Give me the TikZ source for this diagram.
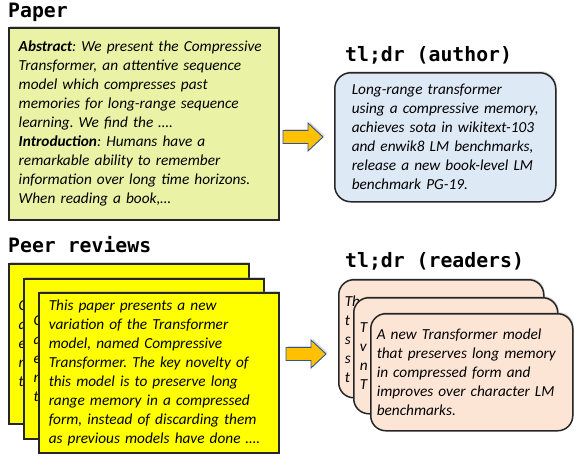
\documentclass[tikz,border=0pt]{standalone}
\usepackage{fontspec}
\setmainfont{Carlito}
\newfontfamily\titlefont{DejaVu Sans Mono}
\usetikzlibrary{shadows}
\frenchspacing

\definecolor{paperfill}{RGB}{234,242,166}
\definecolor{authorfill}{RGB}{222,233,246}
\definecolor{reviewfill}{RGB}{255,255,0}
\definecolor{readerfill}{RGB}{252,229,213}
\definecolor{arrowfill}{RGB}{255,192,0}
\definecolor{arrowline}{RGB}{47,85,151}
\definecolor{boxline}{RGB}{38,38,38}

\begin{document}
\begin{tikzpicture}[x=1pt, y=-1pt,
    every node/.style={inner sep=0pt},
    heading/.style={font=\titlefont\bfseries\fontsize{19.8}{22}\selectfont, anchor=base west},
    card/.style={draw=boxline, line width=1.5pt, align=left, anchor=north west,
        font=\itshape\fontsize{15.3}{19}\selectfont,
        drop shadow={shadow xshift=1pt, shadow yshift=1.5pt, opacity=0.35}},
    paperbox/.style={card, fill=paperfill, inner xsep=10pt, text width=250pt, minimum height=192pt},
    authorbox/.style={card, fill=authorfill, rounded corners=16pt, inner xsep=17pt, text width=187pt, minimum height=129pt},
    reviewcard/.style={card, fill=reviewfill, inner xsep=10pt, text width=220pt, minimum height=160pt},
    readercard/.style={card, fill=readerfill, rounded corners=15pt, inner xsep=6pt, text width=#1, minimum height=117pt},
    bigarrow/.style={draw=arrowline, fill=arrowfill, line width=0.9pt, line join=miter,
        drop shadow={shadow xshift=1.5pt, shadow yshift=1.5pt, opacity=0.3}},
]
\useasboundingbox (0,0) rectangle (574,456);

% Headings
\node[heading] (paperTitle) at (8,17) {Paper};
\node[heading] (authorTitle) at (345,61) {tl;dr (author)};
\node[heading] (reviewTitle) at (8,252) {Peer reviews};
\node[heading] (readerTitle) at (345,267) {tl;dr (readers)};

% Paper abstract
\node[paperbox] (paper) at (8,27) {\textbf{Abstract}: We present the Compressive\\
    Transformer, an attentive sequence\\
    model which compresses past\\
    memories for long-range sequence\\
    learning. We find the ….\\
    \textbf{Introduction}: Humans have a\\
    remarkable ability to remember\\
    information over long time horizons.\\
    When reading a book,…};

% Author summary
\node[authorbox] (author) at (334,72) {Long-range transformer\\
    using a compressive memory,\\
    achieves sota in wikitext-103\\
    and enwik8 LM benchmarks,\\
    release a new book-level LM\\
    benchmark PG-19.};

% Stack of peer reviews
\node[reviewcard] (reviewA) at (8,263) {C\\a\\e\\m\\t};
\node[reviewcard] (reviewB) at (23,278) {C\\a\\e\\m\\t};
\node[reviewcard] (reviewC) at (38,292) {This paper presents a new\\
    variation of the Transformer\\
    model, named Compressive\\
    Transformer. The key novelty of\\
    this model is to preserve long\\
    range memory in a compressed\\
    form, instead of discarding them\\
    as previous models have done ….};

% Stack of reader summaries
\node[readercard=193pt, minimum height=118pt] (readerA) at (338,279) {Th\\t\\s\\s\\t};
\node[readercard=192pt, minimum height=116pt] (readerB) at (353,297) {T\\v\\n\\T};
\node[readercard=190pt] (readerC) at (370,313) {A new Transformer model\\
    that preserves long memory\\
    in compressed form and\\
    improves over character LM\\
    benchmarks.};

% Block arrows
\foreach \ax/\ay in {283/137, 286/354}
  \draw[bigarrow] (\ax,\ay) ++(0,-6.5) -- ++(25,0) -- ++(0,-7.5) -- ++(15,14)
      -- ++(-15,14) -- ++(0,-7.5) -- ++(-25,0) -- cycle;

\end{tikzpicture}
\end{document}
